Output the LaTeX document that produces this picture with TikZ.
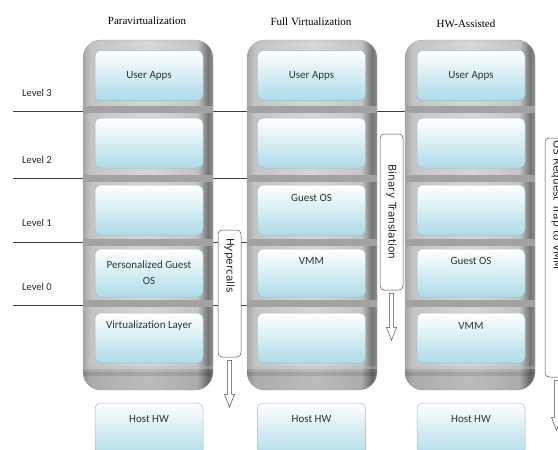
\documentclass[tikz,border=0pt]{standalone}
\usepackage{fontspec}
\setmainfont{Liberation Serif}
\newfontfamily\boxfont{Carlito}
\newfontfamily\sidefont{DejaVu Sans}
\definecolor{cA}{HTML}{A6A6A6}
\definecolor{cB}{HTML}{C4C4C4}
\definecolor{cC}{HTML}{D6D6D6}
\definecolor{cD}{HTML}{767676}
\definecolor{cE}{HTML}{8E8E8E}
\definecolor{boxblue}{HTML}{AEDBE8}
\definecolor{boxedge}{HTML}{97C2D0}
\definecolor{sepgray}{HTML}{A2A2A2}
\pgfdeclarehorizontalshading{contshade}{100bp}{color(0bp)=(cA); color(25bp)=(cA); color(28bp)=(cB); color(50bp)=(cC); color(69bp)=(cB); color(73bp)=(cD); color(75bp)=(cE); color(100bp)=(cE)}
\tikzset{
  cont/.style={rounded corners=18pt, shading=contshade, draw=gray!70, line width=0.4pt},
  layer/.style={draw=boxedge, line width=0.5pt, rounded corners=6pt, top color=white, bottom color=boxblue,
    minimum width=108pt, minimum height=50pt, font=\boxfont\fontsize{11}{13}\selectfont, align=center, inner sep=2pt, text=black!80},
  ttl/.style={font=\fontsize{11}{13}\selectfont},
  lvl/.style={font=\boxfont\fontsize{10.5}{12}\selectfont, anchor=west, inner sep=0pt, text=black!85},
  lvline/.style={draw=black!75, line width=0.6pt},
  sidebox/.style={draw=black!70, line width=0.5pt, rounded corners=4pt, fill=white, rotate=-90,
    minimum height=23pt, font=\sidefont\fontsize{10.5}{12}\selectfont, text=black!85},
  pics/hollowarrow/.style={code={
    \draw[draw=black!70, fill=white, line width=0.5pt] (-2,0) -- (2,0) -- (2,#1-13) -- (5,#1-13) -- (0,#1) -- (-5,#1-13) -- (-2,#1-13) -- cycle;}}
}
\begin{document}
\begin{tikzpicture}[x=1pt,y=-1pt]
\useasboundingbox (0,0) rectangle (558,450);
% level lines
\coordinate (l3a) at (13,111); \coordinate (l3b) at (405,111);
\coordinate (l2a) at (13,178); \coordinate (l2b) at (247,178);
\coordinate (l1a) at (13,242); \coordinate (l1b) at (247,242);
\coordinate (l0a) at (13,305); \coordinate (l0b) at (247,305);
\draw[lvline] (l3a) -- (l3b);
\draw[lvline] (l2a) -- (l2b);
\draw[lvline] (l1a) -- (l1b);
\draw[lvline] (l0a) -- (l0b);
% containers
\foreach \xl/\xr in {83/213, 247/377, 405/535}{
  \path[cont] (\xl,40) rectangle (\xr,390);
  \begin{scope}
    \clip[rounded corners=18pt] (\xl,40) rectangle (\xr,390);
    \fill[black,opacity=0.12] (\xl,366) rectangle (\xr,390);
    \fill[black,opacity=0.10] (\xl,372) rectangle (\xr,376);
    \fill[white,opacity=0.25] (\xl,366) rectangle (\xr,369);
  \end{scope}
  \fill[sepgray] (\xl,106) rectangle (\xr,113);
  \fill[sepgray] (\xl,175) rectangle (\xr,182);
  \fill[sepgray] (\xl,239) rectangle (\xr,246);
  \fill[sepgray] (\xl,300) rectangle (\xr,307);
}
% column 1
\node[layer] (p1) at (149,75.5) {User Apps};
\node[layer] (p2) at (149,143) {};
\node[layer] (p3) at (149,210) {};
\node[layer, minimum height=48pt] (p4) at (149,273) {Personalized Guest\\[3pt]OS};
\node[layer] (p5) at (149,338) {Virtualization Layer\\[14pt]};
\node[layer, minimum height=54pt] (p6) at (149,430) {Host HW\\[10pt]};
% column 2
\node[layer] (f1) at (311.5,75.5) {User Apps};
\node[layer] (f2) at (311.5,143) {};
\node[layer] (f3) at (311.5,210) {Guest OS\\[12pt]};
\node[layer, minimum height=48pt] (f4) at (311.5,273) {VMM\\[12pt]};
\node[layer] (f5) at (311.5,338) {};
\node[layer, minimum height=54pt] (f6) at (311.5,430) {Host HW\\[10pt]};
% column 3
\node[layer] (h1) at (471,75.5) {User Apps};
\node[layer] (h2) at (471,143) {};
\node[layer] (h3) at (471,210) {};
\node[layer, minimum height=48pt] (h4) at (471,273) {Guest OS\\[12pt]};
\node[layer] (h5) at (471,338) {VMM\\[12pt]};
\node[layer, minimum height=54pt] (h6) at (471,430) {Host HW\\[10pt]};
% side boxes
\node[sidebox, minimum width=127pt, text width=111pt, align=left, inner xsep=8pt] (hyp) at (229.5,293.5) {Hypercalls};
\node[sidebox, minimum width=156pt, text width=150pt, align=center, inner xsep=3pt] (bin) at (391.5,212) {Binary Translation};
\node[sidebox, minimum width=239pt, text width=235pt, align=left, inner xsep=2pt] (osr) at (556.5,257.5) {OS Request Trap to VMM};
% arrows
\pic at ([yshift=-3pt]hyp.east) {hollowarrow=47};
\pic at ([yshift=-3pt]bin.east) {hollowarrow=47};
\pic at ([yshift=-3pt]osr.east) {hollowarrow=50};
% titles
\node[ttl] (t1) at (147,21) {Paravirtualization};
\node[ttl] (t2) at (311,22) {Full Virtualization};
\node[ttl] (t3) at (466,24) {HW-Assisted};
% level labels
\node[lvl] (L3) at (22,93) {Level 3};
\node[lvl] (L2) at (22,160) {Level 2};
\node[lvl] (L1) at (22,223) {Level 1};
\node[lvl] (L0) at (22,287) {Level 0};
\end{tikzpicture}
\end{document}
